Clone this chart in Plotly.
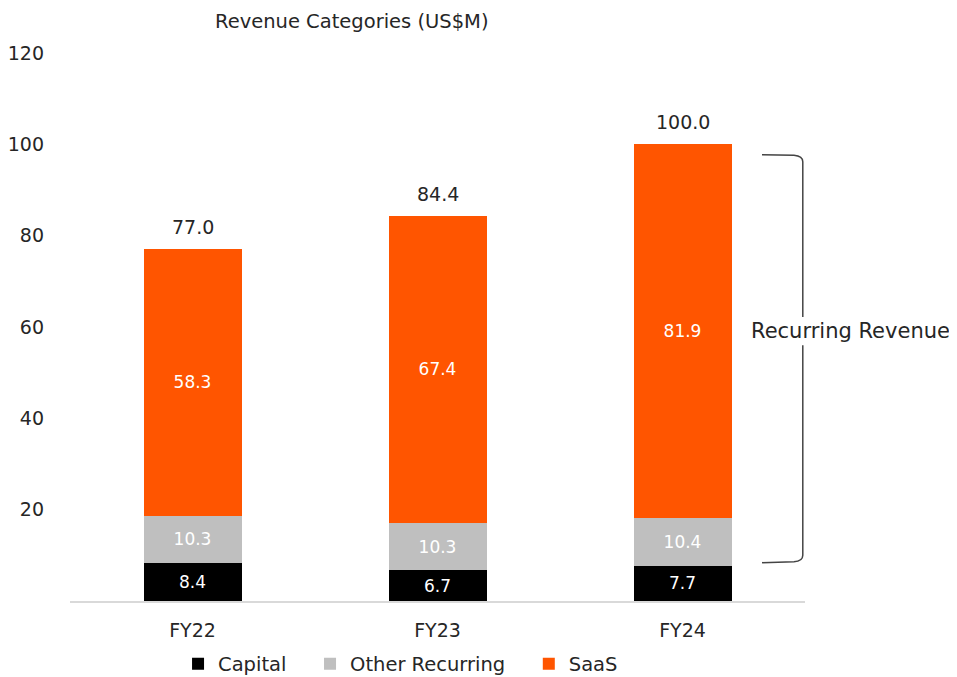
import plotly.graph_objects as go

YEARS = ["FY22", "FY23", "FY24"]
CAPITAL = [8.4, 6.7, 7.7]
OTHER_RECURRING = [10.3, 10.3, 10.4]
SAAS = [58.3, 67.4, 81.9]
TOTALS = [77.0, 84.4, 100.0]
Y_TICKS = [20, 40, 60, 80, 100, 120]

TEXT = "#262626"
FONT = "DejaVu Sans, Noto Sans, Arial, sans-serif"
PAD = "\u00a0\u00a0\u00a0"  # extra room between legend entries

fig = go.Figure()
for name, vals, color, txt in [
    ("Capital" + PAD, CAPITAL, "#000000", "#ffffff"),
    ("Other Recurring" + PAD, OTHER_RECURRING, "#bfbfbf", "#ffffff"),
    ("SaaS", SAAS, "#ff5500", "#ffffff"),
]:
    fig.add_trace(go.Bar(
        x=YEARS, y=vals, name=name, marker=dict(color=color, line_width=0),
        text=[f"{v:.1f}" for v in vals], textposition="inside", insidetextanchor="middle",
        textangle=0, textfont=dict(color=txt, size=17, family=FONT),
    ))

# totals above each stack
for yr, tot in zip(YEARS, TOTALS):
    fig.add_annotation(x=yr, y=tot, text=f"{tot:.1f}", xref="x", yref="y",
                       yanchor="bottom", yshift=9, showarrow=False,
                       font=dict(color=TEXT, size=19, family=FONT))

# bracket around the recurring part of FY24
bracket = ("M 0.9415,97.7 L 0.985,97.6 Q 0.997,97.4 0.997,96.2 L 0.997,62.2 "
           "M 0.997,56.0 L 0.997,10.0 Q 0.997,8.7 0.985,8.6 L 0.9415,8.4")
fig.add_shape(type="path", path=bracket, xref="paper", yref="y",
              line=dict(color="#444444", width=1.5))
fig.add_annotation(text="Recurring Revenue", xref="paper", yref="y", x=0.924, y=59.1,
                   xanchor="left", yanchor="middle", showarrow=False,
                   font=dict(color=TEXT, size=21, family=FONT))
fig.add_annotation(text="Revenue Categories (US$M)", xref="paper", yref="paper",
                   x=0.3837, y=1.0566, xanchor="center", yanchor="middle",
                   showarrow=False, font=dict(color=TEXT, size=19.5, family=FONT))

fig.update_layout(
    width=957, height=677, barmode="stack", bargap=0.6,
    paper_bgcolor="white", plot_bgcolor="white",
    font=dict(family=FONT, color=TEXT, size=19),
    margin=dict(l=62, r=160, t=45, b=84, autoexpand=False),
    legend=dict(orientation="h", x=0.147, y=-0.115, xanchor="left", yanchor="middle",
                font=dict(size=19.5, color=TEXT), traceorder="normal", itemwidth=30),
)
fig.update_xaxes(showline=True, linecolor="#d9d9d9", linewidth=1.5, showgrid=False,
                 ticks="", ticklabelstandoff=11, tickfont=dict(size=19, color=TEXT))
fig.update_yaxes(range=[0, 120], tickvals=Y_TICKS, showgrid=False, zeroline=False, automargin=False,
                 showline=False, ticks="", ticklabelstandoff=25, tickfont=dict(size=19, color=TEXT))

fig.write_html("out.html")
